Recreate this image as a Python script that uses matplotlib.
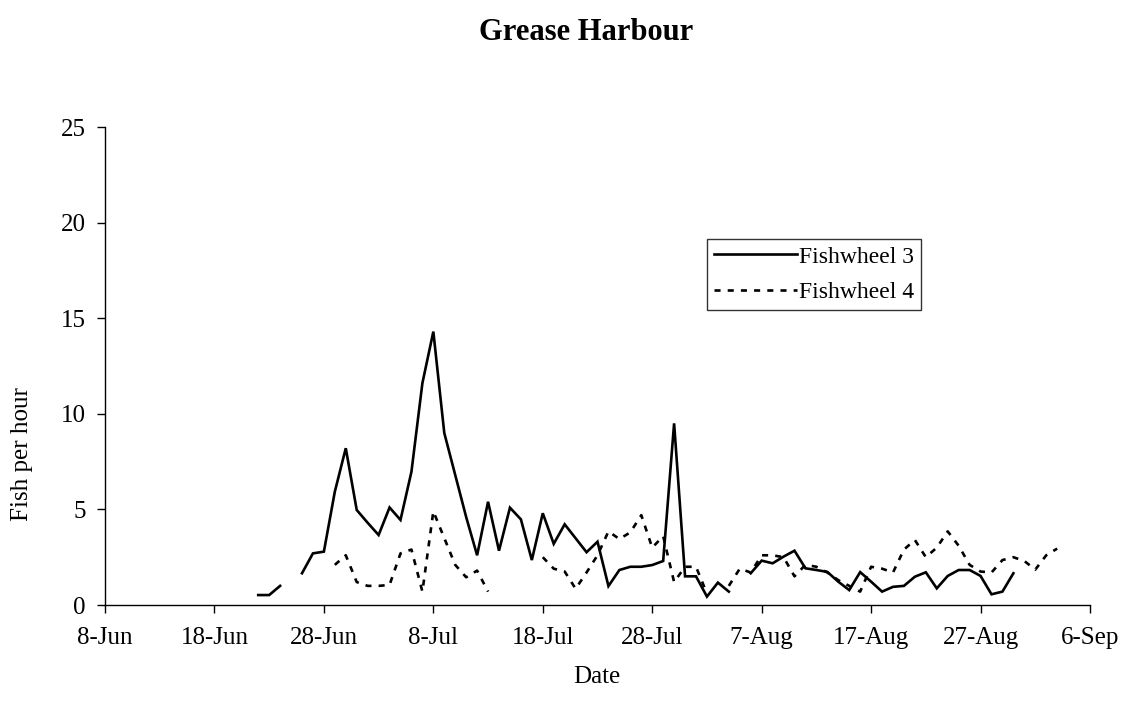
import numpy as np
import pandas as pd
import matplotlib
matplotlib.use("Agg")
import matplotlib.pyplot as plt

plt.rcParams['font.family'] = ['Liberation Serif', 'DejaVu Serif']

title = "Grease Harbour"
series_names = ["Fishwheel 3", "Fishwheel 4"]

fw3_start = "2000-06-22"
fw3_values = [0.52, 0.52, 1.0, np.nan, 1.66, 2.7, 2.79, 5.93, 8.2, 4.97,
              4.3, 3.66, 5.1, 4.45, 6.97, 11.6, 14.3, 9.0, 6.8, 4.6,
              2.6, 5.4, 2.84, 5.09, 4.48, 2.35, 4.8, 3.2, 4.22, 3.49,
              2.76, 3.31, 0.99, 1.83, 2.0, 2.0, 2.09, 2.3, 9.5, 1.5,
              1.5, 0.44, 1.17, 0.7, np.nan, 1.66, 2.32, 2.18, 2.53, 2.84,
              1.92, 1.83, 1.73, 1.22, 0.78, 1.72, 1.22, 0.7, 0.95, 1.0,
              1.48, 1.71, 0.87, 1.52, 1.83, 1.83, 1.52, 0.56, 0.7, 1.66]

fw4_start = "2000-06-29"
fw4_values = [2.1, 2.6, 1.2, 1.0, 1.0, 1.05, 2.7, 2.9, 0.7, 4.9,
              3.5, 2.1, 1.45, 1.8, 0.7, np.nan, np.nan, np.nan, np.nan, 2.5,
              1.9, 1.75, 0.85, 1.7, 2.6, 3.85, 3.45, 3.8, 4.7, 3.0,
              3.6, 1.2, 2.0, 2.0, 0.6, np.nan, 1.0, 1.9, 1.7, 2.6,
              2.6, 2.5, 1.5, 2.1, 2.0, 1.7, 1.3, 1.0, 0.7, 2.0,
              1.9, 1.7, 2.9, 3.4, 2.5, 3.0, 3.85, 3.1, 2.1, 1.75,
              1.7, 2.35, 2.5, 2.3, 1.85, 2.6, 2.95]

x_start = "2000-06-08"
x_end = "2000-09-06"
y_ticks = [0, 5, 10, 15, 20, 25]

fw3_dates = pd.date_range(fw3_start, periods=len(fw3_values), freq="D")
fw4_dates = pd.date_range(fw4_start, periods=len(fw4_values), freq="D")

W, H = 1127, 715
FS = 18
AX_L, AX_R, AX_T, AX_B = 105, 1090, 127, 605
fig = plt.figure(figsize=(W / 100, H / 100), dpi=100)
ax = fig.add_axes([AX_L / W, (H - AX_B) / H, (AX_R - AX_L) / W, (AX_B - AX_T) / H])

ax.plot(fw3_dates, fw3_values, color="black", lw=1.9, label=series_names[0],
        solid_joinstyle="miter")
ax.plot(fw4_dates, fw4_values, color="black", lw=1.9, linestyle=(0, (2.3, 2.7)),
        label=series_names[1])

ax.set_xlim(pd.Timestamp(x_start), pd.Timestamp(x_end))
ax.set_ylim(0, 25)
ax.set_yticks(y_ticks)
ticks = pd.date_range(x_start, x_end, freq="10D")
ax.set_xticks(ticks)
ax.set_xticklabels([f"{t.day}-{t.strftime('%b')}" for t in ticks])

for s in ["top", "right"]:
    ax.spines[s].set_visible(False)
for s in ["left", "bottom"]:
    ax.spines[s].set_linewidth(1.0)
ax.tick_params(axis="both", direction="out", length=6, width=1.0, labelsize=FS,
               colors="black")
ax.tick_params(axis="x", pad=10)
ax.tick_params(axis="y", pad=8)

ax.set_ylabel("Fish per hour", fontsize=FS, va="center")
ax.yaxis.set_label_coords((22 - AX_L) / (AX_R - AX_L), (AX_B - 454) / (AX_B - AX_T))
ax.set_xlabel("Date", fontsize=FS, va="center")
ax.xaxis.set_label_coords((597 - AX_L) / (AX_R - AX_L), -(677 - AX_B) / (AX_B - AX_T))
fig.text(586 / W, 1 - 33 / H, title, ha="center", va="center",
         fontsize=22, fontweight="bold")

leg = ax.legend(loc="upper left",
                bbox_to_anchor=((707 - AX_L) / (AX_R - AX_L), (AX_B - 239) / (AX_B - AX_T)),
                frameon=True, fancybox=False, edgecolor="black", fontsize=17,
                handlelength=3.5, handletextpad=0.1, borderpad=0.3,
                labelspacing=0.6, borderaxespad=0)
leg.get_frame().set_linewidth(1.0)

fig.savefig("out.png", dpi=100)
